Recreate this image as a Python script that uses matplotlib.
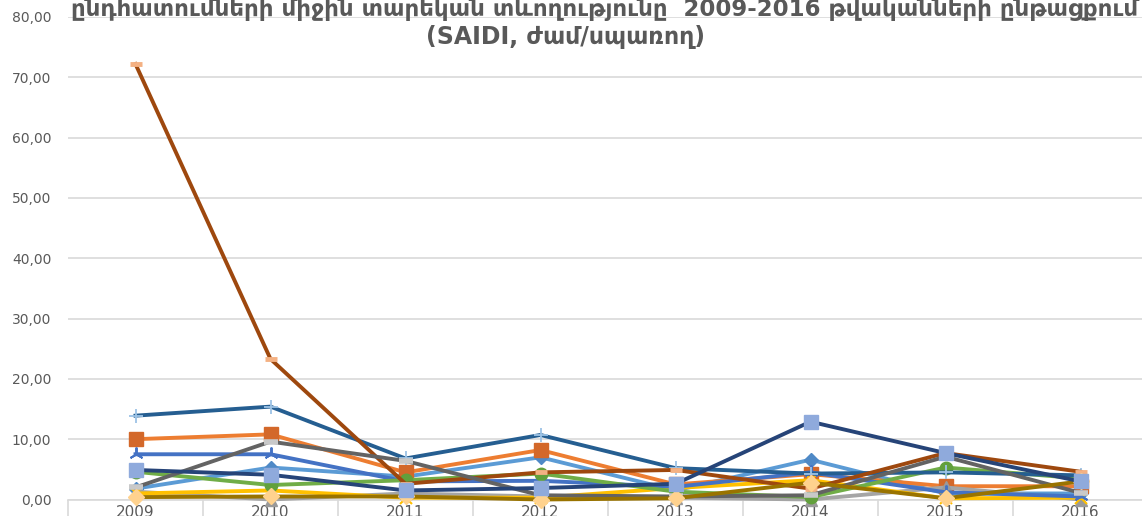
import matplotlib
matplotlib.use("Agg")
import matplotlib.pyplot as plt
from matplotlib.ticker import FuncFormatter, MultipleLocator
import numpy as np

years = ["2009", "2010", "2011", "2012", "2013", "2014", "2015", "2016"]

# SAIDI values (hours / customer) for each series
s1_light_blue = [1.8, 5.3, 3.8, 7.0, 1.5, 6.6, 1.0, 1.0]
s2_orange = [10.0, 10.8, 4.5, 8.2, 2.5, 4.2, 2.2, 2.2]
s3_gray = [1.3, 0.0, 1.0, 0.5, 0.3, 0.0, 2.0, 0.0]
s4_gold = [1.0, 1.5, 0.3, 0.3, 1.9, 3.2, 0.2, 0.3]
s5_blue = [7.5, 7.5, 3.0, 3.1, 2.1, 4.5, 1.2, 0.5]
s6_green = [4.6, 2.4, 3.2, 4.3, 1.3, 0.4, 5.3, 3.5]
s7_dark_blue = [13.9, 15.4, 6.8, 10.7, 5.2, 4.3, 4.5, 4.0]
s8_dark_orange = [72.2, 23.3, 2.6, 4.5, 4.9, 1.8, 7.7, 4.6]
s9_dark_gray = [2.0, 9.6, 6.4, 0.7, 0.5, 0.7, 7.1, 1.1]
s10_dark_gold = [0.4, 0.5, 0.5, 0.0, 0.2, 2.8, 0.2, 3.0]
s11_navy = [4.9, 4.1, 1.5, 1.9, 2.6, 12.9, 7.7, 3.0]

title_line1 = "ընդհատումների միջին տարեկան տևողությունը  2009-2016 թվականների ընթացքում"
title_line2 = "(SAIDI, ժամ/սպառող)"

# (values, line colour, marker, marker colour, marker size, marker edge width)
series = [
    (s1_light_blue, "#5B9BD5", "D", "#4F89C6", 7.5, 1.0),
    (s2_orange, "#ED7D31", "s", "#D3682A", 9.5, 1.0),
    (s3_gray, "#A5A5A5", "^", "#9A9A9A", 9.0, 1.0),
    (s4_gold, "#FFC000", "x", "#FFC000", 8.0, 1.5),
    (s5_blue, "#4472C4", (3, 2, 0), "#4472C4", 10.0, 1.4),
    (s6_green, "#70AD47", "o", "#62A03C", 9.0, 1.0),
    (s7_dark_blue, "#255E91", "+", "#9DC3E6", 10.0, 1.3),
    (s8_dark_orange, "#9E480E", "_", "#F4B183", 8.0, 3.5),
    (s9_dark_gray, "#636363", "_", "#C9C9C9", 10.0, 4.0),
    (s10_dark_gold, "#997300", "D", "#FFD28E", 8.0, 1.0),
    (s11_navy, "#264478", "s", "#8FAADC", 9.5, 1.0),
]

fig = plt.figure(figsize=(11.42, 5.16), dpi=100)
ax = fig.add_axes([68 / 1142, 16.5 / 516, 1080 / 1142, 482.5 / 516])

x = np.arange(len(years))
for vals, color, marker, mcolor, ms, mew in series:
    ax.plot(x, vals, color=color, lw=2.8, marker=marker, markersize=ms,
            markerfacecolor=mcolor, markeredgecolor=mcolor, markeredgewidth=mew,
            solid_joinstyle="round", clip_on=False, zorder=3)

ax.set_xlim(-0.5, len(years) - 0.5)
ax.set_ylim(0, 80)
ax.yaxis.set_major_locator(MultipleLocator(10))
ax.yaxis.set_major_formatter(FuncFormatter(lambda v, _: f"{v:.2f}".replace(".", ",")))
ax.grid(axis="y", color="#D9D9D9", lw=1.2)
ax.set_axisbelow(True)

ax.set_xticks(x)
ax.set_xticklabels(years)
ax.set_xticks(np.arange(len(years) + 1) - 0.5, minor=True)
ax.tick_params(axis="x", which="major", length=0, pad=4, labelsize=11, labelcolor="#595959")
ax.tick_params(axis="x", which="minor", length=14, color="#D9D9D9", width=1.2)
ax.tick_params(axis="y", length=0, pad=12, labelsize=10, labelcolor="#595959")

for side in ["top", "right", "left"]:
    ax.spines[side].set_visible(False)
ax.spines["bottom"].set_color("#D9D9D9")
ax.spines["bottom"].set_linewidth(1.2)

fig.text(605 / 1142, 1 - 16 / 516, title_line1, ha="center", va="baseline",
         fontsize=16.5, weight="bold", color="#595959", family="DejaVu Sans")
fig.text(566 / 1142, 1 - 44 / 516, title_line2, ha="center", va="baseline",
         fontsize=17, weight="bold", color="#595959", family="DejaVu Sans")

fig.savefig("out.png", dpi=100)
